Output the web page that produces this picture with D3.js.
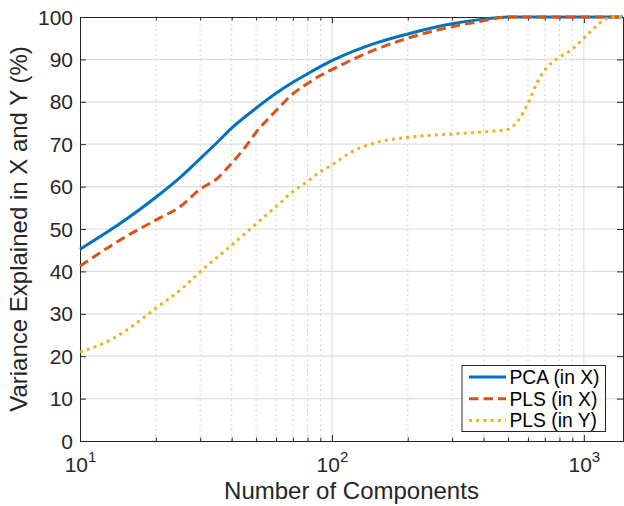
<!DOCTYPE html>
<html>
<head>
<meta charset="utf-8">
<script src="https://cdn.jsdelivr.net/npm/d3@7"></script>
<style>
  body { margin: 0; background: #fff; }
  svg { font-family: "Liberation Sans", Arial, Helvetica, sans-serif; }
</style>
</head>
<body>
<div id="chart"></div>
<script>
// number of components (x) and cumulative % variance explained (y)
const pcaX = [10, 13, 15, 20, 25, 30, 35, 40, 50, 60, 70, 80, 100, 150, 200, 300, 400, 500, 1430];
const pcaY = [45.2, 49.5, 52.0, 57.5, 62.2, 66.6, 70.4, 73.8, 78.5, 82.0, 84.6, 86.6, 89.7, 93.9, 96.0, 98.4, 99.5, 100, 100];

const plsXx = [10, 13, 15, 20, 25, 30, 35, 40, 45, 50, 60, 70, 80, 90, 100, 150, 200, 300, 400, 500, 1430];
const plsXy = [41.3, 45.7, 48.0, 52.1, 55.3, 59.4, 61.9, 65.5, 69.1, 72.8, 77.9, 81.9, 84.3, 86.2, 87.6, 92.4, 95.0, 97.7, 99.1, 100, 100];

const plsYx = [10, 13, 15, 20, 25, 30, 40, 50, 60, 70, 80, 90, 100, 120, 150, 200, 300, 400, 500, 550, 600, 650, 700, 800, 900, 1000, 1100, 1200, 1300, 1430];
const plsYy = [21.0, 23.6, 25.8, 31.3, 35.6, 39.9, 46.2, 51.2, 55.3, 58.8, 61.2, 63.5, 65.1, 68.2, 70.4, 71.6, 72.4, 72.9, 73.5, 75.7, 79.6, 84.3, 87.5, 90.5, 92.4, 95.0, 97.4, 99.3, 100, 100];

const seriesNames = ["PCA (in X)", "PLS (in X)", "PLS (in Y)"];
const seriesColors = ["#0072BD", "#D95319", "#EDB120"];
const seriesDash = [null, "9.5,5", "3,4.2"];

const yTicks = [0, 10, 20, 30, 40, 50, 60, 70, 80, 90, 100];
const xMajor = [10, 100, 1000];
const xExp = ["1", "2", "3"];

const width = 624, height = 506;
const margin = { top: 17, right: 1, bottom: 65, left: 80 };
const ink = "#262626";

const svg = d3.select("#chart").append("svg")
    .attr("width", width)
    .attr("height", height);

const x = d3.scaleLog().domain([10, 1430]).range([margin.left, width - margin.right]);
const y = d3.scaleLinear().domain([0, 100]).range([height - margin.bottom, margin.top]);

const x0 = x.range()[0], x1 = x.range()[1];
const y0 = y.range()[0], y1 = y.range()[1];

// minor x ticks (2..9 per decade) inside the domain
const xMinor = [];
for (let d = 10; d < 1430; d *= 10) {
    for (let k = 2; k <= 9; k++) {
        if (d * k < 1430) xMinor.push(d * k);
    }
}

// grid
const grid = svg.append("g");
grid.selectAll(".gminor").data(xMinor).join("line")
    .attr("x1", d => x(d)).attr("x2", d => x(d))
    .attr("y1", y0).attr("y2", y1)
    .attr("stroke", "#c4c4c4")
    .attr("stroke-width", 1)
    .attr("stroke-dasharray", "1.5,3.5");
grid.selectAll(".gx").data(xMajor.slice(1)).join("line")
    .attr("x1", d => x(d)).attr("x2", d => x(d))
    .attr("y1", y0).attr("y2", y1)
    .attr("stroke", "#dedede")
    .attr("stroke-width", 1.2);
grid.selectAll(".gy").data(yTicks.slice(1, -1)).join("line")
    .attr("x1", x0).attr("x2", x1)
    .attr("y1", d => y(d)).attr("y2", d => y(d))
    .attr("stroke", "#dedede")
    .attr("stroke-width", 1.2);

// axes with inward ticks
const axisB = d3.axisBottom(x).tickValues(xMajor).tickSize(-6).tickFormat("");
const axisT = d3.axisTop(x).tickValues(xMajor).tickSize(-6).tickFormat("");
const axisL = d3.axisLeft(y).tickValues(yTicks).tickSize(-6).tickFormat("");
const axisR = d3.axisRight(y).tickValues(yTicks).tickSize(-6).tickFormat("");
const axisBm = d3.axisBottom(x).tickValues(xMinor).tickSize(-3.5).tickFormat("");
const axisTm = d3.axisTop(x).tickValues(xMinor).tickSize(-3.5).tickFormat("");

function styleAxis(g) {
    g.selectAll("path, line").attr("stroke", ink).attr("stroke-width", 1);
    g.select(".domain").attr("stroke", ink);
}

svg.append("g").attr("transform", `translate(0,${y0})`).call(axisB).call(styleAxis);
svg.append("g").attr("transform", `translate(0,${y1})`).call(axisT).call(styleAxis);
svg.append("g").attr("transform", `translate(0,${y0})`).call(axisBm).call(styleAxis).select(".domain").remove();
svg.append("g").attr("transform", `translate(0,${y1})`).call(axisTm).call(styleAxis).select(".domain").remove();
svg.append("g").attr("transform", `translate(${x0},0)`).call(axisL).call(styleAxis);
svg.append("g").attr("transform", `translate(${x1},0)`).call(axisR).call(styleAxis);

// tick labels
svg.append("g").selectAll("text").data(yTicks).join("text")
    .attr("x", x0 - 7)
    .attr("y", d => y(d) + 7.5)
    .attr("text-anchor", "end")
    .attr("font-size", 21)
    .attr("fill", ink)
    .text(d => d);

const xl = svg.append("g").selectAll("text").data(xMajor).join("text")
    .attr("x", d => x(d) + 0.5)
    .attr("y", y0 + 31)
    .attr("text-anchor", "middle")
    .attr("font-size", 21)
    .attr("fill", ink);
xl.append("tspan").text("10");
xl.append("tspan")
    .attr("dy", -10)
    .attr("font-size", 15)
    .text((d, i) => xExp[i]);

// axis titles
svg.append("text")
    .attr("x", (x0 + x1) / 2)
    .attr("y", 499)
    .attr("text-anchor", "middle")
    .attr("font-size", 24)
    .attr("fill", ink)
    .text("Number of Components");

svg.append("text")
    .attr("transform", `translate(27,${(y0 + y1) / 2}) rotate(-90)`)
    .attr("text-anchor", "middle")
    .attr("font-size", 24)
    .attr("fill", ink)
    .text("Variance Explained in X and Y (%)");

// lines
const series = [
    d3.zip(pcaX, pcaY),
    d3.zip(plsXx, plsXy),
    d3.zip(plsYx, plsYy)
];

const line = d3.line()
    .x(d => x(d[0]))
    .y(d => y(d[1]))
    .curve(d3.curveMonotoneX);

svg.append("g").selectAll("path").data(series).join("path")
    .attr("d", line)
    .attr("fill", "none")
    .attr("stroke", (d, i) => seriesColors[i])
    .attr("stroke-width", 3)
    .attr("stroke-dasharray", (d, i) => seriesDash[i]);

// legend
const lg = svg.append("g").attr("transform", "translate(462,365.5)");
lg.append("rect")
    .attr("width", 143.5)
    .attr("height", 66)
    .attr("fill", "#fff")
    .attr("stroke", ink)
    .attr("stroke-width", 1);

const row = lg.selectAll(".row").data(seriesNames).join("g")
    .attr("transform", (d, i) => `translate(0,${11.5 + i * 21.7})`);
row.append("line")
    .attr("x1", 7).attr("x2", 44)
    .attr("stroke", (d, i) => seriesColors[i])
    .attr("stroke-width", 3)
    .attr("stroke-dasharray", (d, i) => seriesDash[i]);
row.append("text")
    .attr("x", 47.5)
    .attr("y", 7)
    .attr("font-size", 19.3)
    .attr("fill", "#000")
    .text(d => d);
</script>
</body>
</html>
